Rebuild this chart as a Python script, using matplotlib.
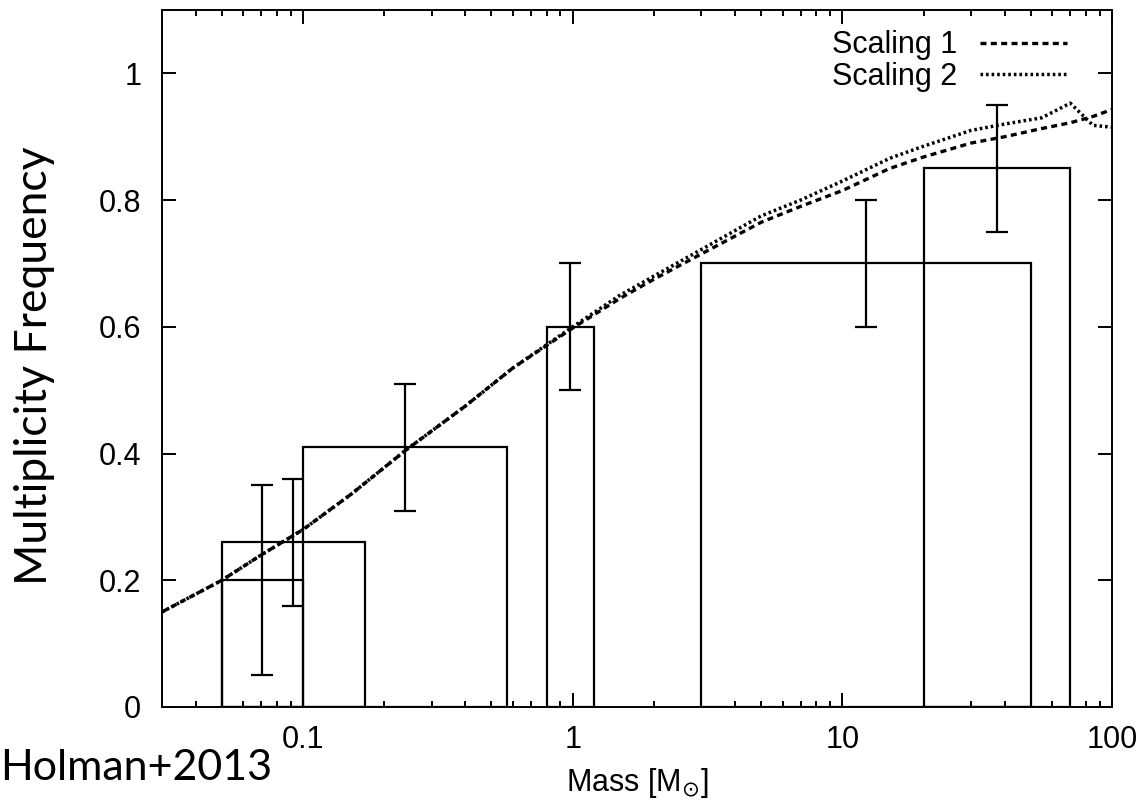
import numpy as np
import matplotlib
matplotlib.use("Agg")
import matplotlib.pyplot as plt
from matplotlib.ticker import FixedLocator, FixedFormatter, NullFormatter

# ---- data ----
box_left = [0.05, 0.05, 0.10, 0.80, 3.0, 20.0]
box_right = [0.10, 0.17, 0.57, 1.20, 50.0, 70.0]
box_height = [0.20, 0.26, 0.41, 0.60, 0.70, 0.85]
box_err = [0.15, 0.10, 0.10, 0.10, 0.10, 0.10]

curve_mass = [0.03, 0.05, 0.07, 0.1, 0.15, 0.24, 0.4, 0.6, 1.0, 1.5, 2.0, 3.0,
              5.0, 7.0, 10.0, 15.0, 20.0, 30.0, 40.0, 55.0, 70.0, 85.0, 100.0]
scaling1 = [0.15, 0.20, 0.24, 0.28, 0.335, 0.405, 0.475, 0.535, 0.598, 0.645,
            0.675, 0.715, 0.765, 0.79, 0.815, 0.85, 0.868, 0.89, 0.90, 0.913,
            0.922, 0.932, 0.943]
scaling2 = [0.15, 0.20, 0.24, 0.28, 0.335, 0.405, 0.475, 0.535, 0.600, 0.650,
            0.680, 0.722, 0.775, 0.80, 0.83, 0.866, 0.885, 0.91, 0.92, 0.93,
            0.953, 0.918, 0.915]

xticks_major = [0.1, 1, 10, 100]
xtick_labels = ["0.1", "1", "10", "100"]
yticks = [0, 0.2, 0.4, 0.6, 0.8, 1.0]
ytick_labels = ["0", "0.2", "0.4", "0.6", "0.8", "1"]

# ---- figure ----
W, H = 1143, 806
fig = plt.figure(figsize=(W / 100, H / 100), dpi=100)
ax = fig.add_axes([162 / W, 1 - 707 / H, 950 / W, 697 / H])

tick_font = "Liberation Sans"
fs = 22

# boxes
left = np.array(box_left)
right = np.array(box_right)
ax.bar(left, box_height, width=right - left, align="edge", facecolor="none",
       edgecolor="black", linewidth=1.6, zorder=2)
centers = np.sqrt(left * right)
ax.errorbar(centers, box_height, yerr=box_err, fmt="none", ecolor="black",
            elinewidth=1.6, capsize=8, capthick=1.6, zorder=3)

# curves
ax.plot(curve_mass, scaling1, color="black", lw=2.4, dashes=(1.8, 1.3),
        dash_capstyle="butt", label="Scaling 1", zorder=4)
ax.plot(curve_mass, scaling2, color="black", lw=2.5, dashes=(0.75, 0.85),
        dash_capstyle="butt", label="Scaling 2", zorder=4)

ax.set_xscale("log")
ax.set_xlim(0.03, 100)
ax.set_ylim(0, 1.1)

minor = []
for dec in [0.01, 0.1, 1, 10]:
    for m in range(2, 10):
        v = m * dec
        if 0.03 < v < 100:
            minor.append(v)
ax.xaxis.set_major_locator(FixedLocator(xticks_major))
ax.xaxis.set_major_formatter(FixedFormatter(xtick_labels))
ax.xaxis.set_minor_locator(FixedLocator(minor))
ax.xaxis.set_minor_formatter(NullFormatter())
ax.yaxis.set_major_locator(FixedLocator(yticks))
ax.yaxis.set_major_formatter(FixedFormatter(ytick_labels))

ax.tick_params(axis="both", which="major", direction="in", length=10, width=1.4,
               top=True, right=True, labelsize=fs)
ax.tick_params(axis="x", which="minor", direction="in", length=4.5, width=1.4,
               top=True, bottom=True)
ax.tick_params(axis="x", which="major", pad=13)
ax.tick_params(axis="y", which="major", pad=15)
for lab in ax.get_xticklabels() + ax.get_yticklabels():
    lab.set_fontfamily(tick_font)
for sp in ax.spines.values():
    sp.set_linewidth(1.4)

ax.set_xlabel(r"Mass [M$_{\odot}$]", fontsize=fs, fontfamily=tick_font, labelpad=8)

leg = ax.legend(loc="upper right", bbox_to_anchor=(0.953, 0.971), frameon=False,
                markerfirst=False, handlelength=2.85, handletextpad=0.75,
                labelspacing=0.05, borderpad=0.0, borderaxespad=0.0,
                prop={"family": tick_font, "size": fs})

fig.text(35 / W, 1 - 366 / H, "Multiplicity Frequency", rotation=90,
         ha="center", va="center", fontsize=32, fontfamily="Lato")
fig.text(0 / W, 1 - 768 / H, "Holman+2013", ha="left", va="center",
         fontsize=31, fontfamily="Lato")

fig.savefig("out.png", dpi=100)
